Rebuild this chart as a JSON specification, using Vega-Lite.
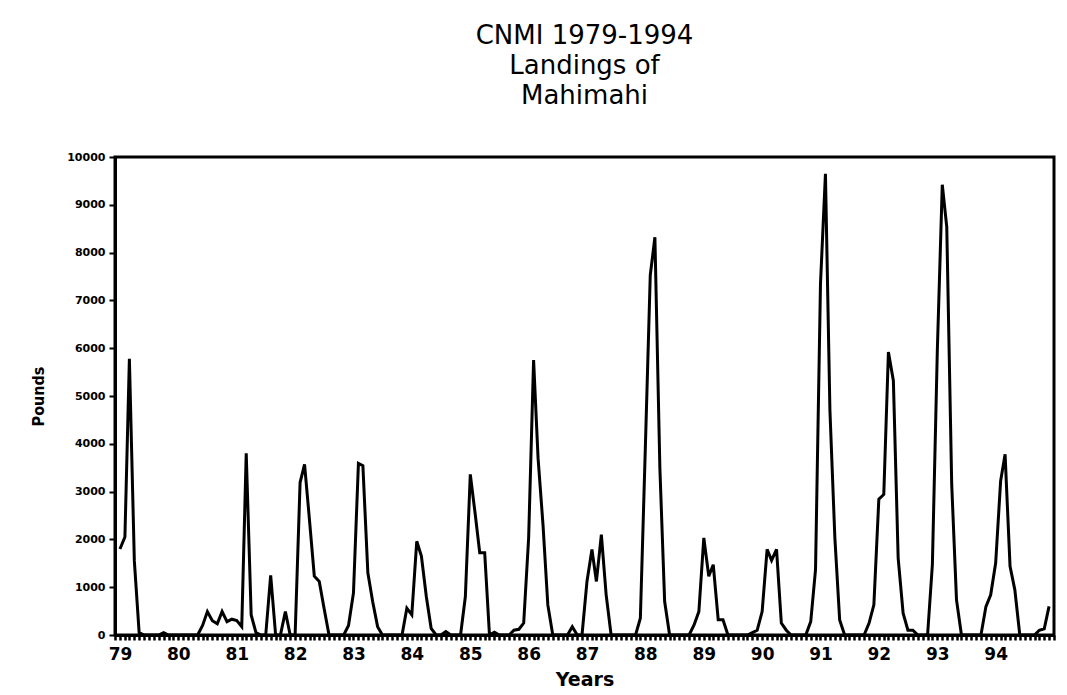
{
  "$schema": "https://vega.github.io/schema/vega-lite/v6.json",
  "autosize": {"type": "none"},
  "padding": {"left": 115, "top": 157, "right": 13, "bottom": 60},
  "width": 939,
  "height": 478,
  "background": "white",
  "title": {
    "text": ["CNMI 1979-1994", "Landings of", "Mahimahi"],
    "anchor": "middle",
    "font": "DejaVu Sans",
    "fontSize": 26,
    "fontWeight": "normal",
    "lineHeight": 30,
    "color": "black",
    "offset": 42
  },
  "config": {
    "view": {"stroke": "black", "strokeWidth": 3},
    "axis": {"grid": false, "domainColor": "black", "tickColor": "black", "labelColor": "black", "titleColor": "black"}
  },
  "data": {
    "values": [
      {"d": "1979-01-01", "v": 1800}, {"d": "1979-02-01", "v": 2050}, {"d": "1979-03-01", "v": 5780}, {"d": "1979-04-01", "v": 1550},
      {"d": "1979-05-01", "v": 50}, {"d": "1979-06-01", "v": 0}, {"d": "1979-07-01", "v": 0}, {"d": "1979-08-01", "v": 0},
      {"d": "1979-09-01", "v": 0}, {"d": "1979-10-01", "v": 50}, {"d": "1979-11-01", "v": 0}, {"d": "1979-12-01", "v": 0},
      {"d": "1980-01-01", "v": 0}, {"d": "1980-02-01", "v": 0}, {"d": "1980-03-01", "v": 0}, {"d": "1980-04-01", "v": 0},
      {"d": "1980-05-01", "v": 0}, {"d": "1980-06-01", "v": 200}, {"d": "1980-07-01", "v": 490}, {"d": "1980-08-01", "v": 300},
      {"d": "1980-09-01", "v": 235}, {"d": "1980-10-01", "v": 490}, {"d": "1980-11-01", "v": 280}, {"d": "1980-12-01", "v": 330},
      {"d": "1981-01-01", "v": 300}, {"d": "1981-02-01", "v": 175}, {"d": "1981-03-01", "v": 3800}, {"d": "1981-04-01", "v": 420},
      {"d": "1981-05-01", "v": 50}, {"d": "1981-06-01", "v": 0}, {"d": "1981-07-01", "v": 0}, {"d": "1981-08-01", "v": 1250},
      {"d": "1981-09-01", "v": 0}, {"d": "1981-10-01", "v": 0}, {"d": "1981-11-01", "v": 490}, {"d": "1981-12-01", "v": 0},
      {"d": "1982-01-01", "v": 0}, {"d": "1982-02-01", "v": 3190}, {"d": "1982-03-01", "v": 3570}, {"d": "1982-04-01", "v": 2400},
      {"d": "1982-05-01", "v": 1230}, {"d": "1982-06-01", "v": 1120}, {"d": "1982-07-01", "v": 560}, {"d": "1982-08-01", "v": 0},
      {"d": "1982-09-01", "v": 0}, {"d": "1982-10-01", "v": 0}, {"d": "1982-11-01", "v": 0}, {"d": "1982-12-01", "v": 200},
      {"d": "1983-01-01", "v": 880}, {"d": "1983-02-01", "v": 3590}, {"d": "1983-03-01", "v": 3540}, {"d": "1983-04-01", "v": 1300},
      {"d": "1983-05-01", "v": 700}, {"d": "1983-06-01", "v": 175}, {"d": "1983-07-01", "v": 0}, {"d": "1983-08-01", "v": 0},
      {"d": "1983-09-01", "v": 0}, {"d": "1983-10-01", "v": 0}, {"d": "1983-11-01", "v": 0}, {"d": "1983-12-01", "v": 560},
      {"d": "1984-01-01", "v": 420}, {"d": "1984-02-01", "v": 1960}, {"d": "1984-03-01", "v": 1650}, {"d": "1984-04-01", "v": 800},
      {"d": "1984-05-01", "v": 140}, {"d": "1984-06-01", "v": 0}, {"d": "1984-07-01", "v": 0}, {"d": "1984-08-01", "v": 70},
      {"d": "1984-09-01", "v": 0}, {"d": "1984-10-01", "v": 0}, {"d": "1984-11-01", "v": 0}, {"d": "1984-12-01", "v": 800},
      {"d": "1985-01-01", "v": 3360}, {"d": "1985-02-01", "v": 2520}, {"d": "1985-03-01", "v": 1720}, {"d": "1985-04-01", "v": 1720},
      {"d": "1985-05-01", "v": 0}, {"d": "1985-06-01", "v": 60}, {"d": "1985-07-01", "v": 0}, {"d": "1985-08-01", "v": 0},
      {"d": "1985-09-01", "v": 0}, {"d": "1985-10-01", "v": 100}, {"d": "1985-11-01", "v": 120}, {"d": "1985-12-01", "v": 250},
      {"d": "1986-01-01", "v": 2030}, {"d": "1986-02-01", "v": 5750}, {"d": "1986-03-01", "v": 3700}, {"d": "1986-04-01", "v": 2300},
      {"d": "1986-05-01", "v": 630}, {"d": "1986-06-01", "v": 0}, {"d": "1986-07-01", "v": 0}, {"d": "1986-08-01", "v": 0},
      {"d": "1986-09-01", "v": 0}, {"d": "1986-10-01", "v": 175}, {"d": "1986-11-01", "v": 0}, {"d": "1986-12-01", "v": 0},
      {"d": "1987-01-01", "v": 1120}, {"d": "1987-02-01", "v": 1790}, {"d": "1987-03-01", "v": 1120}, {"d": "1987-04-01", "v": 2100},
      {"d": "1987-05-01", "v": 840}, {"d": "1987-06-01", "v": 0}, {"d": "1987-07-01", "v": 0}, {"d": "1987-08-01", "v": 0},
      {"d": "1987-09-01", "v": 0}, {"d": "1987-10-01", "v": 0}, {"d": "1987-11-01", "v": 0}, {"d": "1987-12-01", "v": 350},
      {"d": "1988-01-01", "v": 3900}, {"d": "1988-02-01", "v": 7530}, {"d": "1988-03-01", "v": 8320}, {"d": "1988-04-01", "v": 3500},
      {"d": "1988-05-01", "v": 700}, {"d": "1988-06-01", "v": 0}, {"d": "1988-07-01", "v": 0}, {"d": "1988-08-01", "v": 0},
      {"d": "1988-09-01", "v": 0}, {"d": "1988-10-01", "v": 0}, {"d": "1988-11-01", "v": 210}, {"d": "1988-12-01", "v": 490},
      {"d": "1989-01-01", "v": 2030}, {"d": "1989-02-01", "v": 1230}, {"d": "1989-03-01", "v": 1470}, {"d": "1989-04-01", "v": 320},
      {"d": "1989-05-01", "v": 320}, {"d": "1989-06-01", "v": 0}, {"d": "1989-07-01", "v": 0}, {"d": "1989-08-01", "v": 0},
      {"d": "1989-09-01", "v": 0}, {"d": "1989-10-01", "v": 0}, {"d": "1989-11-01", "v": 50}, {"d": "1989-12-01", "v": 100},
      {"d": "1990-01-01", "v": 490}, {"d": "1990-02-01", "v": 1790}, {"d": "1990-03-01", "v": 1560}, {"d": "1990-04-01", "v": 1790},
      {"d": "1990-05-01", "v": 250}, {"d": "1990-06-01", "v": 100}, {"d": "1990-07-01", "v": 0}, {"d": "1990-08-01", "v": 0},
      {"d": "1990-09-01", "v": 0}, {"d": "1990-10-01", "v": 0}, {"d": "1990-11-01", "v": 280}, {"d": "1990-12-01", "v": 1370},
      {"d": "1991-01-01", "v": 7350}, {"d": "1991-02-01", "v": 9650}, {"d": "1991-03-01", "v": 4700}, {"d": "1991-04-01", "v": 2030},
      {"d": "1991-05-01", "v": 315}, {"d": "1991-06-01", "v": 0}, {"d": "1991-07-01", "v": 0}, {"d": "1991-08-01", "v": 0},
      {"d": "1991-09-01", "v": 0}, {"d": "1991-10-01", "v": 0}, {"d": "1991-11-01", "v": 250}, {"d": "1991-12-01", "v": 630},
      {"d": "1992-01-01", "v": 2840}, {"d": "1992-02-01", "v": 2940}, {"d": "1992-03-01", "v": 5920}, {"d": "1992-04-01", "v": 5320},
      {"d": "1992-05-01", "v": 1610}, {"d": "1992-06-01", "v": 455}, {"d": "1992-07-01", "v": 100}, {"d": "1992-08-01", "v": 100},
      {"d": "1992-09-01", "v": 0}, {"d": "1992-10-01", "v": 0}, {"d": "1992-11-01", "v": 0}, {"d": "1992-12-01", "v": 1470},
      {"d": "1993-01-01", "v": 5950}, {"d": "1993-02-01", "v": 9420}, {"d": "1993-03-01", "v": 8540}, {"d": "1993-04-01", "v": 3150},
      {"d": "1993-05-01", "v": 735}, {"d": "1993-06-01", "v": 0}, {"d": "1993-07-01", "v": 0}, {"d": "1993-08-01", "v": 0},
      {"d": "1993-09-01", "v": 0}, {"d": "1993-10-01", "v": 0}, {"d": "1993-11-01", "v": 595}, {"d": "1993-12-01", "v": 840},
      {"d": "1994-01-01", "v": 1505}, {"d": "1994-02-01", "v": 3220}, {"d": "1994-03-01", "v": 3780}, {"d": "1994-04-01", "v": 1435},
      {"d": "1994-05-01", "v": 945}, {"d": "1994-06-01", "v": 0}, {"d": "1994-07-01", "v": 0}, {"d": "1994-08-01", "v": 0},
      {"d": "1994-09-01", "v": 0}, {"d": "1994-10-01", "v": 100}, {"d": "1994-11-01", "v": 130}, {"d": "1994-12-01", "v": 600}
    ]
  },
  "mark": {"type": "line", "color": "black", "strokeWidth": 3, "clip": true},
  "encoding": {
    "x": {
      "field": "d",
      "type": "temporal",
      "scale": {
        "type": "utc",
        "domain": [
          {"year": 1978, "month": 12, "date": 1, "utc": true},
          {"year": 1995, "month": 1, "date": 1, "utc": true}
        ],
        "nice": false
      },
      "axis": {
        "title": "Years",
        "titleFont": "DejaVu Sans",
        "titleFontSize": 19,
        "titleFontWeight": "bold",
        "titlePadding": 8,
        "labelFont": "DejaVu Sans",
        "labelFontSize": 17,
        "labelFontWeight": "bold",
        "labelPadding": 6,
        "labelOverlap": false,
        "labelFlush": false,
        "labelBound": false,
        "labelExpr": "utcmonth(datum.value) == 0 && utcyear(datum.value) < 1995 ? utcFormat(datum.value, '%y') : ''",
        "tickCount": {"interval": "month", "step": 1},
        "tickSize": 5,
        "tickWidth": 2.5,
        "domainWidth": 3
      }
    },
    "y": {
      "field": "v",
      "type": "quantitative",
      "scale": {"domain": [0, 10000], "nice": false},
      "axis": {
        "title": "Pounds",
        "titleFont": "DejaVu Sans Condensed, Liberation Sans, sans-serif",
        "titleFontSize": 16,
        "titleFontWeight": "bold",
        "titlePadding": 20,
        "labelFont": "DejaVu Sans",
        "labelFontSize": 11,
        "labelFontWeight": "bold",
        "labelPadding": 4,
        "values": [0, 1000, 2000, 3000, 4000, 5000, 6000, 7000, 8000, 9000, 10000],
        "format": "d",
        "tickSize": 6,
        "tickWidth": 2,
        "domainWidth": 3
      }
    }
  }
}
